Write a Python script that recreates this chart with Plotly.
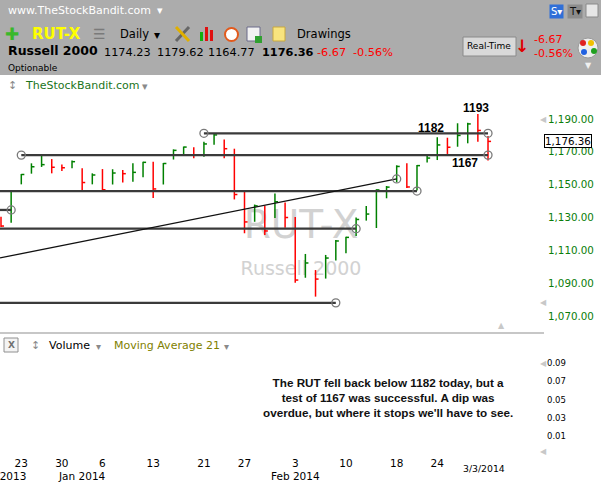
import plotly.graph_objects as go

W, H = 601, 482
UI = "DejaVu Sans"

# daily RUT bars (the chart shows high / low / close only)
dates = ["2013-12-19", "2013-12-20", "2013-12-23", "2013-12-24", "2013-12-26", "2013-12-27",
         "2013-12-30", "2013-12-31", "2014-01-02", "2014-01-03", "2014-01-06", "2014-01-07",
         "2014-01-08", "2014-01-09", "2014-01-10", "2014-01-13", "2014-01-14", "2014-01-15",
         "2014-01-16", "2014-01-17", "2014-01-21", "2014-01-22", "2014-01-23", "2014-01-24",
         "2014-01-27", "2014-01-28", "2014-01-29", "2014-01-30", "2014-01-31", "2014-02-03",
         "2014-02-04", "2014-02-05", "2014-02-06", "2014-02-07", "2014-02-10", "2014-02-11",
         "2014-02-12", "2014-02-13", "2014-02-14", "2014-02-18", "2014-02-19", "2014-02-20",
         "2014-02-21", "2014-02-24", "2014-02-25", "2014-02-26", "2014-02-27", "2014-02-28",
         "2014-03-03"]
highs = [1130.5, 1146.7, 1156.5, 1163.0, 1167.5, 1165.6, 1162.3, 1164.7, 1160.0, 1156.9,
         1159.5, 1159.4, 1158.9, 1163.0, 1164.0, 1164.0, 1163.2, 1171.5, 1173.2, 1172.8,
         1176.2, 1181.3, 1177.5, 1171.9, 1146.5, 1137.9, 1137.2, 1144.6, 1139.1, 1130.3,
         1107.8, 1098.0, 1107.2, 1116.3, 1118.3, 1130.0, 1137.0, 1147.2, 1149.2, 1161.8,
         1163.0, 1162.0, 1167.8, 1178.9, 1178.6, 1187.4, 1187.7, 1193.0, 1179.62]
lows = [1124.2, 1126.8, 1150.2, 1156.7, 1160.8, 1156.9, 1158.3, 1160.0, 1146.1, 1150.2,
        1146.6, 1150.1, 1151.3, 1151.8, 1154.5, 1141.9, 1150.1, 1165.3, 1167.9, 1166.1,
        1167.0, 1174.3, 1166.1, 1141.0, 1120.4, 1127.4, 1119.3, 1129.7, 1123.8, 1090.3,
        1093.3, 1081.8, 1092.8, 1103.8, 1108.2, 1118.7, 1128.1, 1123.6, 1141.7, 1151.5,
        1148.0, 1146.4, 1163.5, 1165.0, 1168.7, 1173.1, 1175.2, 1176.2, 1164.77]
closes = [1124.8, 1146.1, 1156.2, 1160.9, 1162.2, 1160.6, 1160.3, 1164.0, 1151.3, 1155.9,
          1146.9, 1157.1, 1156.7, 1157.5, 1163.6, 1147.4, 1162.9, 1170.9, 1172.9, 1167.9,
          1174.8, 1180.3, 1171.9, 1144.0, 1127.3, 1137.1, 1121.8, 1139.6, 1130.0, 1091.9,
          1102.3, 1092.5, 1105.3, 1115.7, 1117.9, 1128.8, 1132.1, 1146.8, 1148.5, 1161.1,
          1148.6, 1161.6, 1166.2, 1174.2, 1172.8, 1180.0, 1187.0, 1183.03, 1176.36]
prev_close = 1131.0  # close of the day before the first bar (off chart)

tick_dates = ["2013-12-23", "2013-12-30", "2014-01-06", "2014-01-13", "2014-01-21",
              "2014-01-27", "2014-02-03", "2014-02-10", "2014-02-18", "2014-02-24"]
price_ticks = [1070, 1090, 1110, 1130, 1150, 1170, 1190]
vol_ticks = [0.01, 0.03, 0.05, 0.07, 0.09]

# user drawings: start/end date and price (start on first date = runs off the left edge)
draw_start = ["2013-12-23", "2014-01-21", "2013-12-19", "2013-12-19", "2013-12-19", "2013-12-19", "2013-12-19"]
draw_end = ["2014-03-03", "2014-03-03", "2014-02-20", "2013-12-20", "2014-02-11", "2014-02-07", "2014-02-18"]
draw_p0 = [1168.0, 1181.3, 1146.1, 1134.6, 1123.2, 1078.0, 1105.5]
draw_p1 = [1168.0, 1181.3, 1146.1, 1134.6, 1123.2, 1078.0, 1153.5]

level_text = ["1193", "1182", "1167"]
level_date = ["2014-02-28", "2014-02-21", "2014-02-26"]
level_price = [1193.0, 1181.3, 1168.0]

symbol, name = "RUT-X", "Russell 2000"
quote = ["1174.23", "1179.62", "1164.77", "1176.36"]
change, change_pct = "-6.67", "-0.56%"
note = ("The RUT fell back below 1182 today, but a<br>test of 1167 was successful. A dip was"
        "<br>overdue, but where it stops we'll have to see.")

idx = {d: i for i, d in enumerate(dates)}
GREEN, RED = "#008000", "#ff0000"

# pixel helpers (screen layout of the trading app)
def px(x):
    return x / W

def py(y):
    return 1 - y / H

def bx(x):   # pixel -> bar index
    return (x - 1) / 10.146

def bp(y):   # pixel -> price
    return 1190 - (y - 119) / 1.6417

def vp(y):   # pixel -> volume pane value
    return 0.09 - (y - 363) / 915.0

fig = go.Figure()

# watermark behind everything
fig.add_trace(go.Scatter(x=[bx(301), bx(301)], y=[bp(228), bp(270)], mode="text",
                         text=[symbol, name], textfont=dict(family=UI, size=[39, 19], color="#d2d2d2"),
                         hoverinfo="skip", showlegend=False))

# HLC bars, coloured by close vs previous close
gx, gy, rx, ry = [], [], [], []
last = prev_close
for i, (h, l, c) in enumerate(zip(highs, lows, closes)):
    xs = [i, i, None, i, i + 0.3, None]
    ys = [l, h, None, c, c, None]
    if c >= last:
        gx += xs
        gy += ys
    else:
        rx += xs
        ry += ys
    last = c
for xs, ys, col in [(gx, gy, GREEN), (rx, ry, RED)]:
    fig.add_trace(go.Scatter(x=xs, y=ys, mode="lines", line=dict(color=col, width=1.5),
                             hoverinfo="skip", showlegend=False))

# drawings
ax, ay = [], []
for s, e, p0, p1 in zip(draw_start, draw_end, draw_p0, draw_p1):
    flat = p0 == p1
    x0 = idx[s] if s != dates[0] else bx(0)
    y0 = p0 if (flat or s != dates[0]) else p0 + (p1 - p0) * (bx(0) - idx[s]) / (idx[e] - idx[s])
    fig.add_trace(go.Scatter(x=[x0, idx[e]], y=[y0, p1], mode="lines",
                             line=dict(color="#3a3a3a" if flat else "#111111", width=2.3 if flat else 1.3),
                             hoverinfo="skip", showlegend=False))
    if s != dates[0]:
        ax.append(idx[s])
        ay.append(p0)
    ax.append(idx[e])
    ay.append(p1)
fig.add_trace(go.Scatter(x=ax, y=ay, mode="markers",
                         marker=dict(symbol="circle-open", size=8, color="#7a7a7a", line=dict(width=1.3)),
                         hoverinfo="skip", showlegend=False))

# empty volume pane
fig.add_trace(go.Scatter(x=[None], y=[None], xaxis="x", yaxis="y2", mode="markers",
                         hoverinfo="skip", showlegend=False))

ann = []

def txt(t, x, y, size, color="#000000", anchor="left", family=UI, **kw):
    ann.append(dict(text=t, x=px(x), y=py(y), xref="paper", yref="paper", xanchor=anchor,
                    yanchor="middle", showarrow=False, font=dict(family=family, size=size, color=color), **kw))

# header
txt("www.TheStockBandit.com", 6, 10, 11, "#ffffff")
txt("▾", 155, 10, 11, "#ffffff")
txt("S▾", 556, 11, 10, "#ffffff", "center", bgcolor="#2f6fd8", borderpad=1)
txt("T▾", 575, 11, 10, "#111111", "center", bgcolor="#8c8c8c", borderpad=1)
txt("✚", 12, 34, 17, "#39b82a", "center")
txt("<b>" + symbol + "</b>", 30, 34, 15, "#ffff00")
txt("☰", 99, 34, 14, "#7a7a7a", "center")
txt("Daily", 118, 34, 11.5)
txt("▾", 157, 35, 12, "#000000", "center")
txt("Drawings", 295, 34, 11.5)
txt("<b>" + name + "</b>", 6, 51, 12.5)
qx = [102, 155, 206, 260]
for i, (q, x) in enumerate(zip(quote, qx)):
    txt("<b>" + q + "</b>" if i == 3 else q, x, 52, 11.3)
txt(change, 315, 52, 11.3, "#ff0000")
txt(change_pct, 351, 52, 11.3, "#ff0000")
txt("Optionable", 6, 68, 9)
txt("Real-Time", 489, 46, 9, "#000000", "center")
txt("<b>↓</b>", 522, 46, 17, "#e00000", "center")
txt(change, 532, 39, 11, "#ff0000")
txt(change_pct, 532, 53, 11, "#ff0000")
txt("▼", 588, 66, 8, "#f0f0f0", "center")

# pane headers
txt("↕", 12, 85, 11, "#8a8a8a", "center")
txt("TheStockBandit.com", 23, 85, 11, "#1b741b")
txt("▾", 145, 86, 11, "#8a8a8a", "center")
txt("<b>X</b>", 11, 345, 9, "#707070", "center")
txt("↕", 35, 345, 11, "#8a8a8a", "center")
txt("Volume", 47, 345, 11)
txt("▾", 98, 346, 10, "#8a8a8a", "center")
txt("Moving Average 21", 112, 345, 11, "#7f7f00")
txt("▾", 226, 346, 10, "#8a8a8a", "center")
for x, y, s in [(543, 119, "◀"), (543, 302, "◀"), (501, 325, "▲"), (543, 363, "◀"), (543, 451, "◀")]:
    txt(s, x, y, 8, "#c8c8c8", "center")

# note in the volume pane
txt("<b>" + note + "</b>", 388, 397, 11.7, "#111111", "center", family="Liberation Sans")

# level labels
for t, d, p in zip(level_text, level_date, level_price):
    if t == "1193":
        ann.append(dict(text="<b>" + t + "</b>", x=idx[d], y=p, xref="x", yref="y", xanchor="center",
                        yanchor="bottom", xshift=-2, yshift=-3, showarrow=False,
                        font=dict(family="Liberation Sans", size=12, color="#000000")))
    elif t == "1182":
        ann.append(dict(text="<b>" + t + "</b>", x=idx[d], y=p, xref="x", yref="y", xanchor="center",
                        yanchor="bottom", xshift=4, yshift=-4, showarrow=False,
                        font=dict(family="Liberation Sans", size=12, color="#000000")))
    else:
        ann.append(dict(text="<b>" + t + "</b>", x=idx[d], y=p, xref="x", yref="y", xanchor="center",
                        yanchor="top", xshift=7, yshift=1, showarrow=False,
                        font=dict(family="Liberation Sans", size=12, color="#000000")))

# last price box
ann.append(dict(text=f"{closes[-1]:,.2f}", x=px(567.5), y=closes[-1], xref="paper", yref="y",
                xanchor="center", yanchor="middle", showarrow=False, bgcolor="#ffffff",
                bordercolor="#000000", borderwidth=1, borderpad=0,
                font=dict(family=UI, size=10.3, color="#000000")))

# month labels and last date
seen = set()
for d in dates:
    m = d[:7]
    if m not in seen:
        seen.add(m)
        lab = {"12": "Dec", "01": "Jan", "02": "Feb", "03": "Mar"}[d[5:7]] + " " + d[:4]
        if d[5:7] != "03":
            ann.append(dict(text=lab, x=idx[d], y=py(476), xref="x", yref="paper", xanchor="center",
                            yanchor="middle", showarrow=False, font=dict(family=UI, size=10.5, color="#000000")))
y_, m_, d_ = dates[-1].split("-")
ann.append(dict(text=f"{int(m_)}/{int(d_)}/{y_}", x=len(dates) - 1, y=py(468), xref="x", yref="paper",
                xanchor="center", yanchor="middle", xshift=-4, showarrow=False,
                font=dict(family=UI, size=9.3, color="#000000")))

shapes = [
    dict(type="rect", xref="paper", yref="paper", x0=0, x1=1, y0=py(75), y1=1,
         fillcolor="#acacac", line=dict(width=0), layer="below"),
    dict(type="line", xref="paper", yref="paper", x0=0, x1=px(544), y0=py(333), y1=py(333),
         line=dict(color="#8f8f8f", width=1)),
    # Real-Time button
    dict(type="rect", xref="paper", yref="paper", x0=px(463), x1=px(516), y0=py(56), y1=py(37),
         fillcolor="#d9d9d9", line=dict(color="#8a8a8a", width=1)),
    # volume pane close box
    dict(type="rect", xref="paper", yref="paper", x0=px(4), x1=px(18), y0=py(352), y1=py(338),
         fillcolor="#f4f4f4", line=dict(color="#909090", width=1)),
    # floppy icon
    dict(type="rect", xref="paper", yref="paper", x0=px(586), x1=px(598), y0=py(17), y1=py(4),
         fillcolor="#e6e6e6", line=dict(color="#8a8a8a", width=1)),
    # tools icon
    dict(type="line", xref="paper", yref="paper", x0=px(176), x1=px(189), y0=py(41), y1=py(27),
         line=dict(color="#666666", width=3)),
    dict(type="line", xref="paper", yref="paper", x0=px(176), x1=px(189), y0=py(27), y1=py(41),
         line=dict(color="#e0b000", width=3)),
    # chart type icon
    dict(type="rect", xref="paper", yref="paper", x0=px(200), x1=px(203), y0=py(41), y1=py(32),
         fillcolor="#10b010", line=dict(width=0)),
    dict(type="rect", xref="paper", yref="paper", x0=px(205), x1=px(208), y0=py(41), y1=py(27),
         fillcolor="#e01010", line=dict(width=0)),
    dict(type="rect", xref="paper", yref="paper", x0=px(210), x1=px(213), y0=py(41), y1=py(30),
         fillcolor="#e01010", line=dict(width=0)),
    # alarm icon
    dict(type="circle", xref="paper", yref="paper", x0=px(225), x1=px(238), y0=py(41), y1=py(28),
         fillcolor="#ffffff", line=dict(color="#e25a1c", width=2)),
    # calendar icon
    dict(type="rect", xref="paper", yref="paper", x0=px(247), x1=px(260), y0=py(41), y1=py(27),
         fillcolor="#f2f2f2", line=dict(color="#6a6a8a", width=1)),
    dict(type="rect", xref="paper", yref="paper", x0=px(255), x1=px(262), y0=py(43), y1=py(36),
         fillcolor="#30a030", line=dict(width=0)),
    # notes icon
    dict(type="rect", xref="paper", yref="paper", x0=px(273), x1=px(285), y0=py(41), y1=py(27),
         fillcolor="#f8e47e", line=dict(color="#c8a840", width=1)),
    # palette icon
    dict(type="circle", xref="paper", yref="paper", x0=px(578), x1=px(598), y0=py(58), y1=py(38),
         fillcolor="#eeeeee", line=dict(color="#9a9a9a", width=1)),
]
for cx, cy, col in [(583, 43, "#e02020"), (591, 43, "#f0c000"), (594, 51, "#20a020"), (584, 52, "#2060e0")]:
    shapes.append(dict(type="circle", xref="paper", yref="paper", x0=px(cx - 3), x1=px(cx + 3),
                       y0=py(cy + 3), y1=py(cy - 3), fillcolor=col, line=dict(width=0)))

fig.update_layout(
    width=W, height=H, margin=dict(l=0, r=0, t=0, b=0),
    paper_bgcolor="#ffffff", plot_bgcolor="rgba(0,0,0,0)",
    showlegend=False, shapes=shapes, annotations=ann,
    xaxis=dict(domain=[0, px(540)], range=[bx(0), bx(540)], anchor="y2",
               tickvals=[idx[d] for d in tick_dates], ticktext=[str(int(d[8:])) for d in tick_dates],
               showgrid=False, zeroline=False, showline=False, ticks="",
               tickfont=dict(family=UI, size=10.5, color="#000000"), ticklabelstandoff=3),
    yaxis=dict(domain=[py(333), py(75)], range=[bp(333), bp(75)], anchor="x", side="right",
               tickvals=price_ticks, tickformat=",.2f", showgrid=False, zeroline=False,
               showline=False, ticks="", ticklabelstandoff=7,
               tickfont=dict(family=UI, size=10.3, color="#0a7d0a")),
    yaxis2=dict(domain=[py(452), py(333)], range=[vp(452), vp(333)], anchor="x", side="right",
                tickvals=vol_ticks, tickformat=".2f", showgrid=False, zeroline=False,
                showline=False, ticks="", ticklabelstandoff=6,
                tickfont=dict(family=UI, size=8.5, color="#000000")),
)

# the page's default body margin would push the fixed-size figure off the window
fig.write_html("out.html", config={"displayModeBar": False},
               post_script="document.body.style.margin='0';")
